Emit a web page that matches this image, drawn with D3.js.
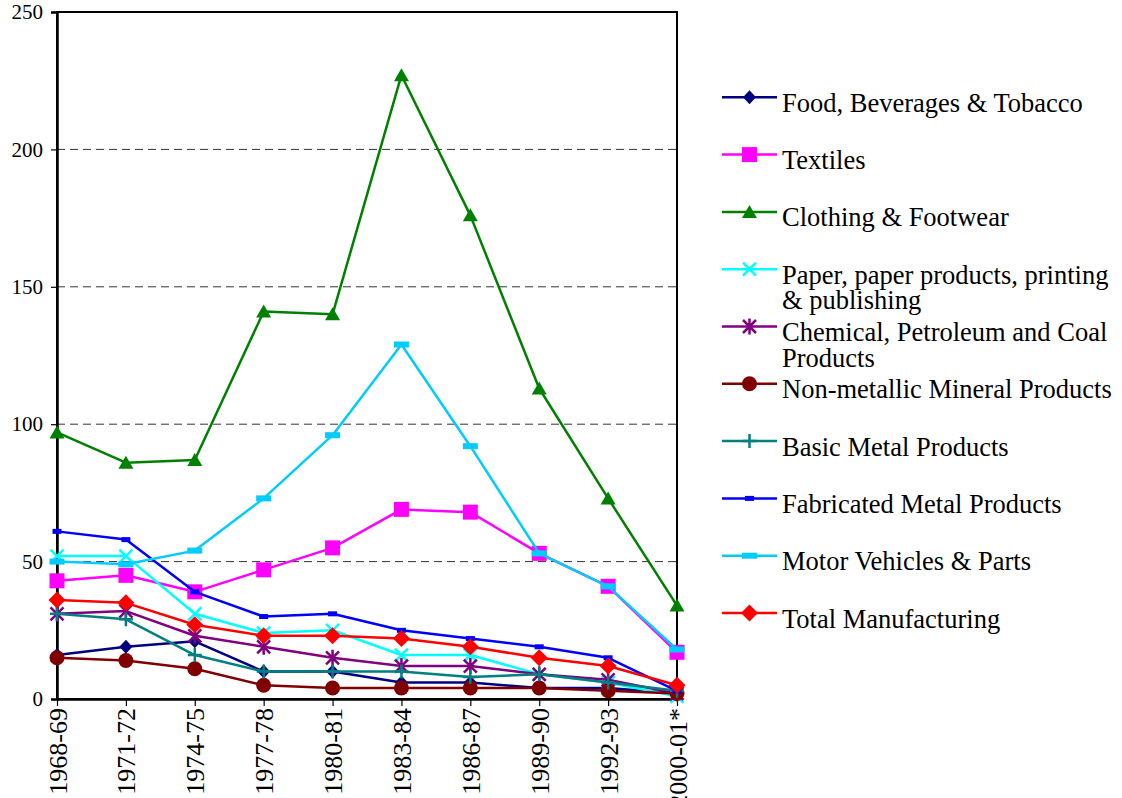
<!DOCTYPE html>
<html>
<head>
<meta charset="utf-8">
<script src="https://cdn.jsdelivr.net/npm/d3@7"></script>
<style>
  html, body { margin: 0; padding: 0; background: #fff; }
  svg { display: block; }
  svg text { font-family: "Liberation Serif", "Times New Roman", Times, serif !important; }
</style>
</head>
<body>
<svg id="chart" width="1122" height="798"></svg>
<script>
// Periods on the horizontal axis
const categories = ["1968-69","1971-72","1974-75","1977-78","1980-81","1983-84","1986-87","1989-90","1992-93","2000-01*"];
const yTicks = [0, 50, 100, 150, 200, 250];

// Industry series values by period
const food        = [16, 19, 21, 10, 10, 6, 6, 4, 4, 2];
const textiles    = [43, 45, 39, 47, 55, 69, 68, 53, 41, 17];
const clothing    = [97, 86, 87, 141, 140, 227, 176, 113, 73, 34];
const paper       = [52, 52, 31, 24, 25, 16, 16, 9, 6, 1];
const chemical    = [31, 32, 23, 19, 15, 12, 12, 9, 7, 2];
const nonMetallic = [15, 14, 11, 5, 4, 4, 4, 4, 3, 2];
const basicMetal  = [31, 29, 16, 10, 10, 10, 8, 9, 6, 3];
const fabricated  = [61, 58, 39, 30, 31, 25, 22, 19, 15, 3];
const motor       = [50, 49, 54, 73, 96, 129, 92, 53, 41, 18];
const total       = [36, 35, 27, 23, 23, 22, 19, 15, 12, 5];

const seriesNames = [
  ["Food, Beverages & Tobacco"],
  ["Textiles"],
  ["Clothing & Footwear"],
  ["Paper, paper products, printing", "& publishing"],
  ["Chemical, Petroleum and Coal", "Products"],
  ["Non-metallic Mineral Products"],
  ["Basic Metal Products"],
  ["Fabricated Metal Products"],
  ["Motor Vehicles & Parts"],
  ["Total Manufacturing"]
];
const seriesValues = [food, textiles, clothing, paper, chemical, nonMetallic, basicMetal, fabricated, motor, total];
const seriesColors = ["#000080", "#FF00FF", "#008000", "#00FFFF", "#800080", "#800000", "#008080", "#0000FF", "#00CCFF", "#FF0000"];
const seriesShapes = ["diamond", "square", "triangle", "cross", "asterisk", "circle", "plus", "dashSmall", "dashWide", "diamondLarge"];

const series = seriesValues.map((vals, i) => ({
  name: seriesNames[i], color: seriesColors[i], shape: seriesShapes[i],
  points: vals.map((v, j) => ({ cat: categories[j], v }))
}));

const svg = d3.select("#chart");
const plotLeft = 57, plotRight = 677, plotTop = 12, plotBottom = 699;

const x = d3.scalePoint().domain(categories).range([plotLeft, plotRight]);
const y = d3.scaleLinear().domain([0, 250]).range([plotBottom, plotTop]);

// Dashed gridlines
svg.append("g")
  .selectAll("line")
  .data(yTicks.filter(t => t > 0 && t < 250))
  .join("line")
  .attr("x1", plotLeft).attr("x2", plotRight)
  .attr("y1", d => y(d)).attr("y2", d => y(d))
  .attr("stroke", "#333").attr("stroke-width", 1)
  .attr("stroke-dasharray", "8,5");

// Plot frame
svg.append("rect")
  .attr("x", plotLeft).attr("y", plotTop)
  .attr("width", plotRight - plotLeft).attr("height", plotBottom - plotTop)
  .attr("fill", "none").attr("stroke", "#000").attr("stroke-width", 2);

// Y axis
const yAxis = svg.append("g")
  .attr("transform", `translate(${plotLeft},0)`)
  .call(d3.axisLeft(y).tickValues(yTicks).tickSize(6).tickPadding(8).tickFormat(d3.format("d")));
yAxis.attr("font-family", null);
yAxis.select(".domain").attr("stroke", "#000").attr("stroke-width", 2.5);
yAxis.selectAll(".tick line").attr("stroke", "#000").attr("stroke-width", 1.2);
yAxis.selectAll(".tick text")
  .attr("font-size", 21).attr("fill", "#000");

// X axis
const xAxis = svg.append("g")
  .attr("transform", `translate(0,${plotBottom})`)
  .call(d3.axisBottom(x).tickSize(7).tickSizeOuter(0));
xAxis.attr("font-family", null);
xAxis.select(".domain").attr("stroke", "#000").attr("stroke-width", 2.5);
xAxis.selectAll(".tick line").attr("stroke", "#000").attr("stroke-width", 1.2);
xAxis.selectAll(".tick text")
  .attr("font-size", 26).attr("fill", "#000")
  .attr("text-anchor", "end")
  .attr("x", 0).attr("y", 0)
  .attr("dy", "0.35em")
  .attr("transform", "translate(0,9) rotate(-90)");

// Marker drawing
function drawMarker(g, shape, color) {
  switch (shape) {
    case "diamond":
      g.append("path").attr("d", "M0,-7 L6.5,0 L0,7 L-6.5,0 Z").attr("fill", color); break;
    case "diamondLarge":
      g.append("path").attr("d", "M0,-8.5 L8.5,0 L0,8.5 L-8.5,0 Z").attr("fill", color); break;
    case "square":
      g.append("rect").attr("x", -7.5).attr("y", -7.5).attr("width", 15).attr("height", 15).attr("fill", color); break;
    case "triangle":
      g.append("path").attr("d", "M0,-7 L7.5,6 L-7.5,6 Z").attr("fill", color); break;
    case "cross":
      g.append("path").attr("d", "M-6.5,-6.5 L6.5,6.5 M-6.5,6.5 L6.5,-6.5")
        .attr("stroke", color).attr("stroke-width", 2.5).attr("fill", "none"); break;
    case "asterisk":
      g.append("path").attr("d", "M-6.5,-6.5 L6.5,6.5 M-6.5,6.5 L6.5,-6.5 M0,-8 L0,8")
        .attr("stroke", color).attr("stroke-width", 2.5).attr("fill", "none"); break;
    case "circle":
      g.append("circle").attr("r", 7.5).attr("fill", color); break;
    case "plus":
      g.append("path").attr("d", "M-7,0 L7,0 M0,-7 L0,7")
        .attr("stroke", color).attr("stroke-width", 2.5).attr("fill", "none"); break;
    case "dashSmall":
      g.append("rect").attr("x", -4.5).attr("y", -2.5).attr("width", 9).attr("height", 5).attr("fill", color); break;
    case "dashWide":
      g.append("rect").attr("x", -7.5).attr("y", -3).attr("width", 15).attr("height", 6).attr("fill", color); break;
  }
}

// Series lines and markers
const line = d3.line().x(d => x(d.cat)).y(d => y(d.v));
series.forEach(s => {
  const g = svg.append("g");
  g.append("path").datum(s.points)
    .attr("d", line).attr("fill", "none")
    .attr("stroke", s.color).attr("stroke-width", 2.5)
    .attr("stroke-linejoin", "round");
  s.points.forEach(p => {
    const m = g.append("g").attr("transform", `translate(${x(p.cat)},${y(p.v)})`);
    drawMarker(m, s.shape, s.color);
  });
});

// Legend
const legendTop = 97.3, legendStep = 57.3;
const legend = svg.append("g");
series.forEach((s, i) => {
  const ly = legendTop + i * legendStep;
  const g = legend.append("g").attr("transform", `translate(0,${ly})`);
  g.append("line").attr("x1", 722).attr("x2", 777).attr("y1", 0).attr("y2", 0)
    .attr("stroke", s.color).attr("stroke-width", 2.5);
  drawMarker(g.append("g").attr("transform", "translate(749.5,0)"), s.shape, s.color);
  const t = g.append("text").attr("x", 782).attr("y", 14.5)
    .attr("font-size", 26.5).attr("fill", "#000");
  s.name.forEach((ln, k) => {
    t.append("tspan").attr("x", 782).attr("dy", k === 0 ? 0 : 25.5).text(ln);
  });
});
</script>
</body>
</html>
